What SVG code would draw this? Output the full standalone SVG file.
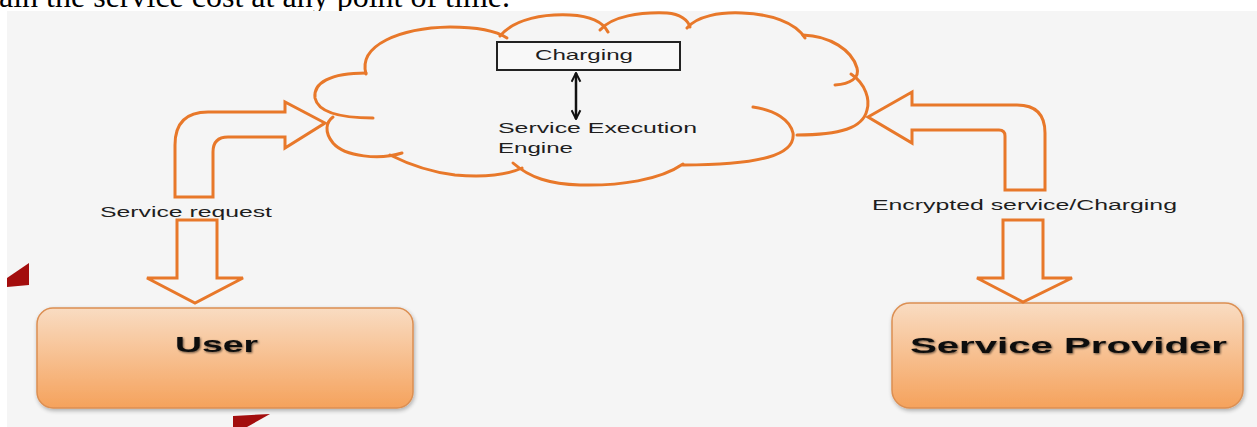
<svg xmlns="http://www.w3.org/2000/svg" width="1257" height="427" viewBox="0 0 1257 427">
<defs>
<style>
.o{fill:none;stroke:#e8782a;stroke-width:3;stroke-linejoin:miter;stroke-linecap:round}
.t{font-family:"Liberation Sans",Arial,sans-serif;fill:#1e1e1e}
.b{font-family:"Liberation Sans",Arial,sans-serif;font-weight:bold;fill:#111}
.box{fill:url(#g);stroke:#dc8f52;stroke-width:1.5}
</style>
<linearGradient id="g" x1="0" y1="0" x2="0" y2="1">
<stop offset="0" stop-color="#f9dcc2"/>
<stop offset="1" stop-color="#f5a25c"/>
</linearGradient>
<filter id="sh" x="-10%" y="-10%" width="120%" height="130%">
<feGaussianBlur in="SourceAlpha" stdDeviation="2"/>
<feOffset dx="1" dy="2"/>
<feComponentTransfer><feFuncA type="linear" slope="0.3"/></feComponentTransfer>
<feMerge><feMergeNode/><feMergeNode in="SourceGraphic"/></feMerge>
</filter>
<filter id="ts" x="-10%" y="-30%" width="120%" height="160%">
<feGaussianBlur in="SourceAlpha" stdDeviation="1.2"/>
<feOffset dx="0.5" dy="1"/>
<feComponentTransfer><feFuncA type="linear" slope="0.6"/></feComponentTransfer>
<feMerge><feMergeNode/><feMergeNode in="SourceGraphic"/></feMerge>
</filter>
<marker id="ah" viewBox="0 0 10 10" refX="9" refY="5" markerWidth="11" markerHeight="11" orient="auto-start-reverse" markerUnits="userSpaceOnUse">
<path d="M1,1 L9,5 L1,9" fill="none" stroke="#111" stroke-width="1.8"/>
</marker>
</defs>
<rect width="1257" height="427" fill="#ffffff"/>
<text x="-1" y="7" font-family="'Liberation Serif','Times New Roman',serif" font-size="32" fill="#000" textLength="511" lengthAdjust="spacingAndGlyphs">ain the service cost at any point of time.</text>
<rect x="7" y="11" width="1250" height="416" fill="#f5f5f5"/>

<g id="cloud">
<path class="o" d="M366,74 C358,45 400,28 450,27 C475,27 495,30 507,38"/>
<path class="o" d="M500,36 C515,18 545,14 570,15 C590,16 603,22 608,32"/>
<path class="o" d="M600,30 C612,16 640,12 667,13 C680,14 688,20 690,27"/>
<path class="o" d="M687,28 C697,16 720,12 742,13 C770,14 795,22 805,38"/>
<path class="o" d="M803,35 C830,36 852,50 857,68 C860,78 850,84 835,85"/>
<path class="o" d="M851,74 C866,84 870,100 867,110 C863,128 840,135 797,135"/>
<path class="o" d="M753,107 C775,110 790,120 793,133 C796,155 760,165 683,165"/>
<path class="o" d="M683,164 C660,180 620,186 580,185 C550,184 530,178 513,163"/>
<path class="o" d="M522,168 C505,176 480,177 455,175 C430,172 410,165 390,155"/>
<path class="o" d="M402,153 C380,160 345,157 333,143 C324,132 326,122 333,117"/>
<path class="o" d="M373,118 C340,118 318,112 315,98 C313,83 330,73 366,73"/>
</g>

<g id="charging">
<rect x="497" y="42" width="183" height="28" fill="#f8f8f8" stroke="#222" stroke-width="2"/>
<text class="t" x="535" y="60" font-size="15" textLength="98" lengthAdjust="spacingAndGlyphs">Charging</text>
</g>

<g id="engine">
<text class="t" x="498" y="133" font-size="15" textLength="199" lengthAdjust="spacingAndGlyphs">Service Execution</text>
<text class="t" x="498" y="153" font-size="15" textLength="75" lengthAdjust="spacingAndGlyphs">Engine</text>
</g>

<g id="user" filter="url(#sh)">
<rect class="box" x="37" y="308" width="376" height="100" rx="16"/>
<text class="b" x="175" y="352" font-size="22" textLength="83" lengthAdjust="spacingAndGlyphs" filter="url(#ts)">User</text>
</g>

<g id="provider" filter="url(#sh)">
<rect class="box" x="892" y="303" width="351" height="105" rx="18"/>
<text class="b" x="910" y="353" font-size="22" textLength="317" lengthAdjust="spacingAndGlyphs" filter="url(#ts)">Service Provider</text>
</g>

<g id="connectors">
<line x1="576" y1="73" x2="576" y2="119" stroke="#111" stroke-width="2.5" marker-start="url(#ah)" marker-end="url(#ah)"/>
<path class="o" d="M175,197 L175,145 Q175,112 208,112 L285,112 L285,102 L325,123 L285,148 L285,137 L228,137 Q213,137 213,152 L213,197 Z"/>
<path class="o" d="M177,220 L217,220 L217,278 L243,278 L195,303 L147,278 L177,278 Z"/>
<text class="t" x="100" y="217" font-size="14" textLength="172" lengthAdjust="spacingAndGlyphs">Service request</text>
<path class="o" d="M868,117 L912,92 L912,105 L1017,105 Q1045,105 1045,133 L1045,190 L1005,190 L1005,136 Q1005,130 999,130 L912,130 L912,143 Z"/>
<path class="o" d="M1003,220 L1043,220 L1043,278 L1072,278 L1023,302 L977,278 L1003,278 Z"/>
<text class="t" x="872" y="210" font-size="14" textLength="305" lengthAdjust="spacingAndGlyphs">Encrypted service/Charging</text>
</g>

<polygon points="7,278 29,263 29,285 7,287" fill="#a30d0d"/>
<polygon points="233,416 270,414 247,427 233,427" fill="#a30d0d"/>
</svg>
